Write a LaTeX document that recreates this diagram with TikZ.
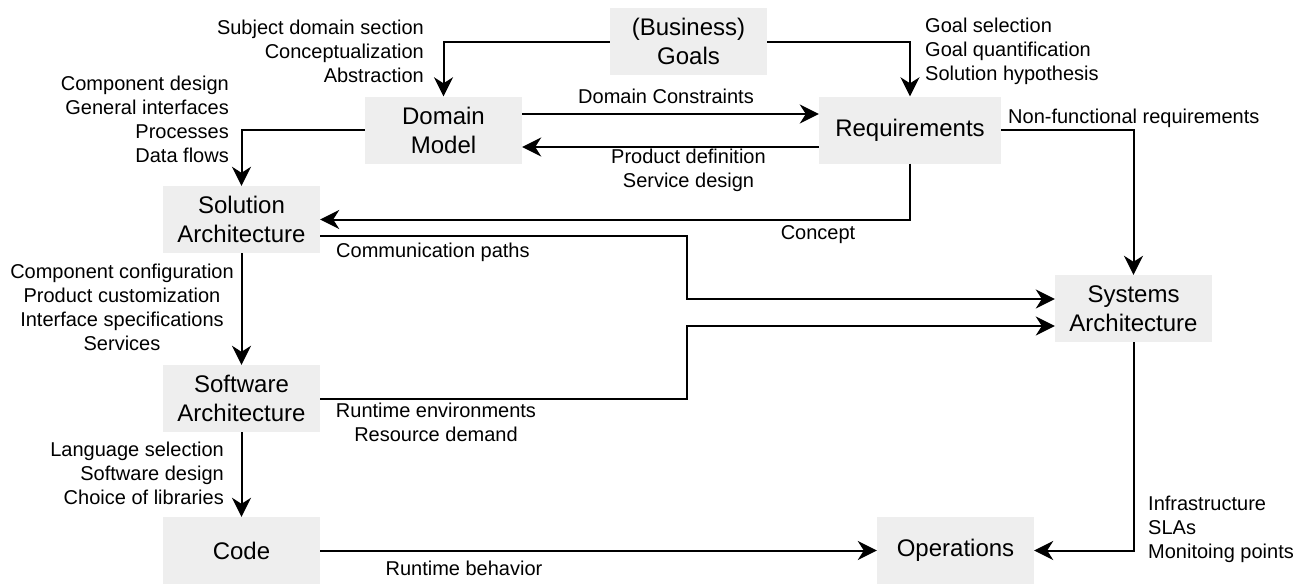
\documentclass[tikz,border=0pt]{standalone}
\usepackage{fontspec}
\setmainfont{Liberation Sans}
\usetikzlibrary{arrows.meta}
\tikzset{
  box/.style={fill=boxgray, draw=none, minimum width=157pt, minimum height=67pt,
    inner sep=0pt, align=center, font=\fontsize{24}{29}\selectfont},
  lbl/.style={inner sep=0pt, font=\fontsize{20}{24}\selectfont},
  flow/.style={line width=2pt, -{Stealth[length=19pt,width=19pt,inset=6pt]}},
}
\definecolor{boxgray}{HTML}{EEEEEE}
\begin{document}
\begin{tikzpicture}[x=1pt, y=-1pt]
\useasboundingbox (0,0) rectangle (1302,584);

% boxes
\node[box] (goals) at (688.5,41.5) {(Business)\\Goals};
\node[box] (dm) at (443.5,130) {Domain\\Model};
\node[box, minimum width=182pt] (req) at (910,130) {Requirements};
\node[box] (sol) at (241.5,219.5) {Solution\\Architecture};
\node[box] (sw) at (241.5,398.5) {Software\\Architecture};
\node[box] (code) at (241.5,550.5) {Code};
\node[box] (sys) at (1133.5,308.5) {Systems\\Architecture};
\node[box] (ops) at (955.5,550.5) {Operations};

% bend points
\coordinate (c1) at (687,236);
\coordinate (c2) at (687,398.5);

% connectors
\draw[flow] (goals.west) -| (dm.north);
\draw[flow] (goals.east) -| (req.north);
\draw[flow] ([yshift=16pt]dm.east) -- ([yshift=16pt]req.west);
\draw[flow] ([yshift=-17pt]req.west) -- ([yshift=-17pt]dm.east);
\draw[flow] (req.south) |- (sol.east);
\draw[flow] (req.east) -| (sys.north);
\draw[flow] (dm.west) -| (sol.north);
\draw[flow] ([yshift=-16.5pt]sol.east) -- (c1) |- ([yshift=9.5pt]sys.west);
\draw[flow] (sw.east) -- (c2) |- ([yshift=-17.5pt]sys.west);
\draw[flow] (sol.south) -- (sw.north);
\draw[flow] (sw.south) -- (code.north);
\draw[flow] (code.east) -- (ops.west);
\draw[flow] (sys.south) |- (ops.east);

% labels
\node[lbl, align=right, anchor=east] (l1) at (424,51.5) {Subject domain section\\Conceptualization\\Abstraction};
\node[lbl, align=right, anchor=east] (l2) at (229,119) {Component design\\General interfaces\\Processes\\Data flows};
\node[lbl, align=left, anchor=west] (l3) at (925,51.5) {Goal selection\\Goal quantification\\Solution hypothesis};
\node[lbl] (l4) at (666,96) {Domain Constraints};
\node[lbl, align=center] (l5) at (688.5,170.5) {Product definition\\Service design};
\node[lbl, anchor=west] (l6) at (1008,118) {Non-functional requirements};
\node[lbl] (l7) at (818,235) {Concept};
\node[lbl, anchor=west] (l8) at (336,252) {Communication paths};
\node[lbl, align=center] (l9) at (436,422) {Runtime environments\\Resource demand};
\node[lbl, align=center] (l10) at (122,307.5) {Component configuration\\Product customization\\Interface specifications\\Services};
\node[lbl, align=right, anchor=east] (l11) at (224,473) {Language selection\\Software design\\Choice of libraries};
\node[lbl] (l12) at (464,568) {Runtime behavior};
\node[lbl, align=left, anchor=west] (l13) at (1148,529) {Infrastructure\\SLAs\\Monitoing points};
\end{tikzpicture}
\end{document}
